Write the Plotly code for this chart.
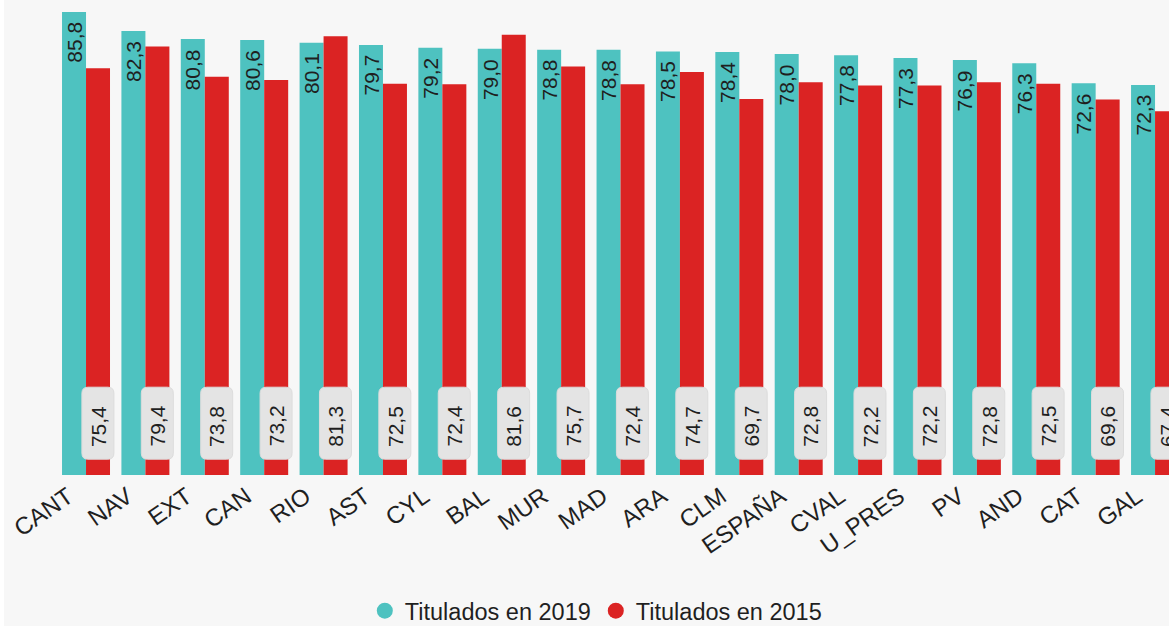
import plotly.graph_objects as go

categories = ["CANT", "NAV", "EXT", "CAN", "RIO", "AST", "CYL", "BAL", "MUR", "MAD",
              "ARA", "CLM", "ESPAÑA", "CVAL", "U_PRES", "PV", "AND", "CAT", "GAL"]
titulados_2019 = [85.8, 82.3, 80.8, 80.6, 80.1, 79.7, 79.2, 79.0, 78.8, 78.8,
                  78.5, 78.4, 78.0, 77.8, 77.3, 76.9, 76.3, 72.6, 72.3]
titulados_2015 = [75.4, 79.4, 73.8, 73.2, 81.3, 72.5, 72.4, 81.6, 75.7, 72.4,
                  74.7, 69.7, 72.8, 72.2, 72.2, 72.8, 72.5, 69.6, 67.4]

TEAL = "#4ec2c0"
RED = "#db2323"
BG = "#f7f7f7"
FONT = "Arial, Liberation Sans, sans-serif"
TXT = "#1f1f1f"
LABEL_Y = 9.6


def fmt(v):
    return f"{v:.1f}".replace(".", ",")


fig = go.Figure()
fig.add_trace(go.Bar(
    x=categories, y=titulados_2019, name="Titulados en 2019",
    marker=dict(color=TEAL, line=dict(width=0)),
    showlegend=False, hoverinfo="x+y"))
fig.add_trace(go.Bar(
    x=categories, y=titulados_2015, name="Titulados en 2015",
    marker=dict(color=RED, line=dict(width=0)),
    showlegend=False, hoverinfo="x+y"))

# legend entries with circle markers
fig.add_trace(go.Scatter(x=[None], y=[None], mode="markers", name="Titulados en 2019",
                         marker=dict(symbol="circle", size=20, color=TEAL)))
fig.add_trace(go.Scatter(x=[None], y=[None], mode="markers", name="Titulados en 2015",
                         marker=dict(symbol="circle", size=20, color=RED)))

shapes = []
annotations = []
w, h, r = 16, 36, 6
path = (f"M {-w+r},{-h} L {w-r},{-h} Q {w},{-h} {w},{-h+r} L {w},{h-r} Q {w},{h} {w-r},{h} "
        f"L {-w+r},{h} Q {-w},{h} {-w},{h-r} L {-w},{-h+r} Q {-w},{-h} {-w+r},{-h} Z")
for i, (v19, v15) in enumerate(zip(titulados_2019, titulados_2015)):
    # 2019 value label at top inside the teal bar
    annotations.append(dict(x=i - 0.2, y=v19, xref="x", yref="y", yanchor="top", yshift=-8,
                            text=fmt(v19), showarrow=False, textangle=-90,
                            font=dict(size=21, color=TXT, family=FONT)))
    # 2015 value label in rounded box near the bottom of the red bar
    xc = i + 0.2
    shapes.append(dict(type="path", xref="x", yref="y", xsizemode="pixel", ysizemode="pixel",
                       xanchor=xc, yanchor=LABEL_Y, path=path,
                       fillcolor="#e4e4e4", line=dict(color="#dcdcdc", width=1), layer="above"))
    annotations.append(dict(x=xc, y=LABEL_Y, xref="x", yref="y", yshift=-3,
                            text=fmt(v15), showarrow=False, textangle=-90,
                            font=dict(size=21, color=TXT, family=FONT)))

fig.update_layout(
    width=1165, height=626,
    paper_bgcolor=BG, plot_bgcolor=BG,
    margin=dict(l=0, r=0, t=0, b=151, autoexpand=False),
    barmode="group", bargap=0.192, bargroupgap=0,
    separators=",.",
    font=dict(family=FONT, color=TXT),
    xaxis=dict(range=[-1.381, 18.235], tickangle=-35, showgrid=False, showline=False,
               ticks="", tickfont=dict(size=24, color=TXT, family=FONT),
               ticklabelshift=-18, ticklabelstandoff=2, automargin=False),
    yaxis=dict(range=[0, 88.03], visible=False, showgrid=False, zeroline=False,
               automargin=False),
    legend=dict(orientation="h", x=0.508, xanchor="center", y=-0.286, yanchor="middle",
                font=dict(size=23.5, color=TXT, family=FONT), bgcolor="rgba(0,0,0,0)",
                itemsizing="trace"),
    shapes=shapes, annotations=annotations,
)

fig.write_html("out.html", post_script="document.body.style.margin='0 0 0 4px';")
